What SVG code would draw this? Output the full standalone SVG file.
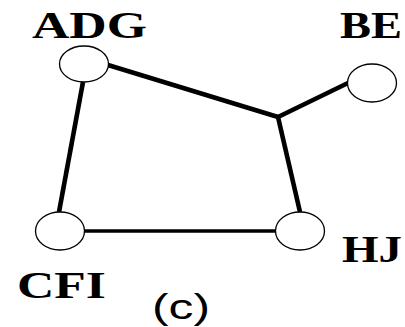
<svg xmlns="http://www.w3.org/2000/svg" width="405" height="327" viewBox="0 0 405 327">
<style>
.n{fill:#fff;stroke:#000;stroke-width:1.3}
.e{stroke:#000;stroke-width:4.6;fill:none;stroke-linecap:butt}
.l{font-family:"Liberation Serif","Times New Roman",serif;font-weight:bold;font-size:37px;fill:#000}
.c{font-family:"Liberation Sans",Arial,sans-serif;font-weight:normal;font-size:35px;fill:#000}
</style>
<rect width="405" height="327" fill="#fff"/>
<g id="connectors">
<polyline class="e" points="108,65 278,117"/>
<polyline class="e" points="278,117 348,83"/>
<polyline class="e" points="278,117 300,212"/>
<polyline class="e" points="83,82 59,212"/>
<polyline class="e" style="stroke-width:3.5" points="84,231 276,231"/>
</g>
<g id="ADG"><ellipse class="n" cx="84" cy="64" rx="24.5" ry="18"/><text class="l" x="32" y="38" textLength="115" lengthAdjust="spacingAndGlyphs">ADG</text></g>
<g id="BE"><ellipse class="n" cx="372" cy="83" rx="24.5" ry="19"/><text class="l" x="340" y="38" textLength="62" lengthAdjust="spacingAndGlyphs">BE</text></g>
<g id="CFI"><ellipse class="n" cx="60" cy="231" rx="24.5" ry="19"/><text class="l" x="17" y="298" textLength="89" lengthAdjust="spacingAndGlyphs">CFI</text></g>
<g id="HJ"><ellipse class="n" cx="300" cy="231" rx="24.5" ry="19"/><text class="l" x="342" y="262" textLength="60" lengthAdjust="spacingAndGlyphs">HJ</text></g>
<text class="c" x="152" y="319" textLength="58" lengthAdjust="spacingAndGlyphs">(c)</text>
</svg>
